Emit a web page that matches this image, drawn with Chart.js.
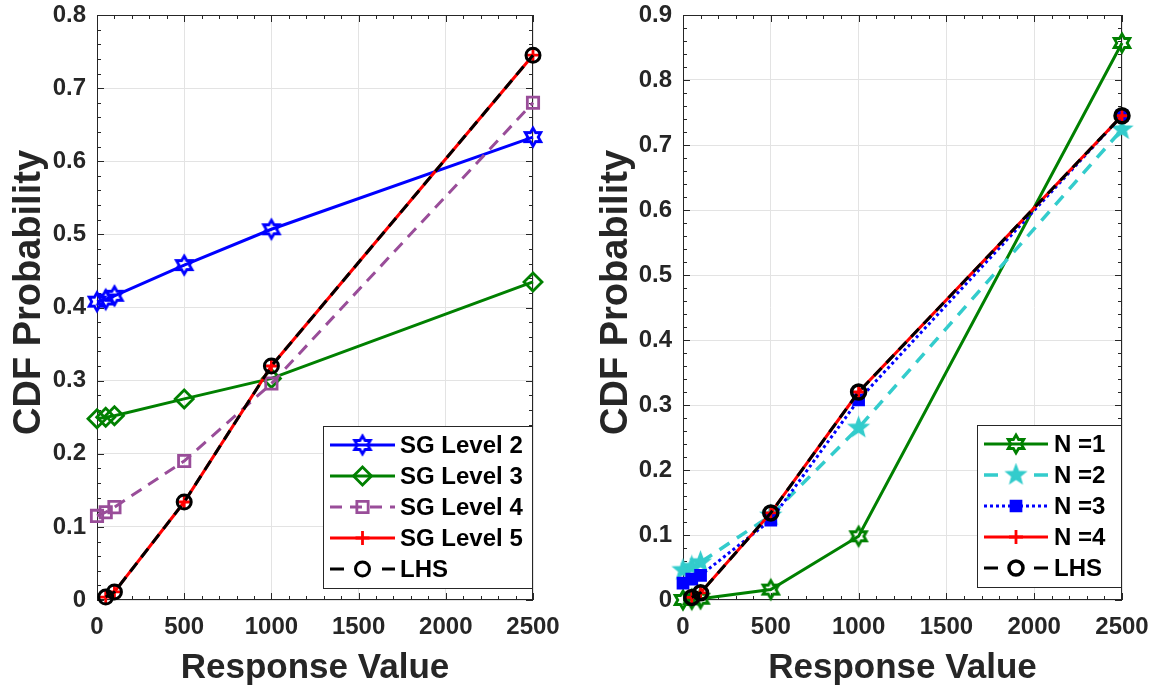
<!DOCTYPE html>
<html>
<head>
<meta charset="utf-8">
<script src="https://cdn.jsdelivr.net/npm/chart.js@4.4.1/dist/chart.umd.min.js"></script>
<style>
  html, body { margin: 0; padding: 0; background: #fff; }
  .panel { position: absolute; top: 0; height: 690px; }
  #left-panel { left: 0; width: 576px; }
  #right-panel { left: 586px; width: 572px; }
</style>
</head>
<body>
<div class="panel" id="left-panel"><canvas id="left-chart" width="576" height="690"></canvas></div>
<div class="panel" id="right-panel"><canvas id="right-chart" width="572" height="690"></canvas></div>
<script>
// x positions of the samples (response values)
const responseValues = [0, 50, 100, 500, 1000, 2500];

// left panel: sparse grid levels
const sgLevel2 = [0.408, 0.411, 0.416, 0.458, 0.507, 0.633];
const sgLevel3 = [0.248, 0.250, 0.252, 0.275, 0.303, 0.435];
const sgLevel4 = [0.115, 0.120, 0.127, 0.190, 0.296, 0.680];
const sgLevel5 = [null, 0.004, 0.011, 0.134, 0.320, 0.745];
const lhsLeft = [null, 0.004, 0.011, 0.134, 0.320, 0.745];

// right panel: N
const nEq1 = [0.000, 0.001, 0.002, 0.016, 0.098, 0.857];
const nEq2 = [0.046, 0.051, 0.058, 0.130, 0.265, 0.724];
const nEq3 = [0.026, 0.032, 0.038, 0.123, 0.308, 0.745];
const nEq4 = [null, 0.004, 0.011, 0.134, 0.320, 0.745];
const lhsRight = [null, 0.004, 0.011, 0.134, 0.320, 0.745];

const xTicks = [0, 500, 1000, 1500, 2000, 2500];
const leftYMax = 0.8;
const rightYMax = 0.9;

const FONT = "'Liberation Sans', Arial, Helvetica, sans-serif";
const AXIS_COLOR = "#262626";

function starCanvas(nPts, innerRatio, r, stroke, fill, lw) {
  const c = document.createElement("canvas");
  const s = Math.ceil(2 * r + lw * 2 + 2);
  c.width = c.height = s;
  const g = c.getContext("2d");
  g.beginPath();
  for (let k = 0; k < nPts * 2; k++) {
    const rad = k % 2 === 0 ? r : r * innerRatio;
    const ang = -Math.PI / 2 + (k * Math.PI) / nPts;
    const px = s / 2 + rad * Math.cos(ang);
    const py = s / 2 + rad * Math.sin(ang);
    if (k === 0) g.moveTo(px, py); else g.lineTo(px, py);
  }
  g.closePath();
  if (fill) { g.fillStyle = fill; g.fill(); }
  g.lineWidth = lw;
  g.strokeStyle = stroke;
  g.stroke();
  return c;
}

const blueHex = starCanvas(6, 0.577, 9, "#0000ff", null, 2.8);
const greenHex = starCanvas(6, 0.577, 9, "#008000", null, 2.8);
const cyanStar = starCanvas(5, 0.42, 10, "#33cccc", "#33cccc", 1.5);

function toPoints(ys) {
  return responseValues
    .map((x, i) => ({ x, y: ys[i] }))
    .filter((p) => p.y !== null);
}

function series(label, ys, color, extra) {
  return Object.assign({
    label,
    data: toPoints(ys),
    borderColor: color,
    backgroundColor: color,
    pointBorderColor: color,
    pointBackgroundColor: "rgba(0,0,0,0)",
    borderWidth: 3,
    pointBorderWidth: 2.8,
    pointRadius: 7,
    tension: 0,
    fill: false,
    clip: false,
  }, extra);
}

// inward major + minor ticks on all four sides, MATLAB box style
const matlabBox = {
  id: "matlabBox",
  beforeDatasetsDraw(chart, args, opts) {
    const { ctx, chartArea: a, scales: { x, y } } = chart;
    ctx.save();
    ctx.strokeStyle = AXIS_COLOR;
    ctx.lineWidth = 1;
    ctx.strokeRect(Math.round(a.left) + 0.5, Math.round(a.top) + 0.5,
      Math.round(a.width) - 1, Math.round(a.height) - 1);
    ctx.beginPath();
    for (let v = x.min; v <= x.max + 1e-9; v += opts.xMinor) {
      const px = Math.round(x.getPixelForValue(v)) + 0.5;
      const len = Math.abs(v % opts.xMajor) < 1e-9 ? 7 : 4;
      ctx.moveTo(px, a.bottom); ctx.lineTo(px, a.bottom - len);
      ctx.moveTo(px, a.top); ctx.lineTo(px, a.top + len);
    }
    const nMinor = Math.round((y.max - y.min) / opts.yMinor);
    for (let k = 0; k <= nMinor; k++) {
      const v = y.min + k * opts.yMinor;
      const py = Math.round(y.getPixelForValue(v)) + 0.5;
      const len = k % 5 === 0 ? 7 : 4;
      ctx.moveTo(a.left, py); ctx.lineTo(a.left + len, py);
      ctx.moveTo(a.right, py); ctx.lineTo(a.right - len, py);
    }
    ctx.stroke();

    // y axis title, drawn by hand so it can sit a little above centre like MATLAB's
    ctx.save();
    ctx.translate(opts.yTitleX, (a.top + a.bottom) / 2 + opts.yTitleShift);
    ctx.rotate(-Math.PI / 2);
    ctx.font = "bold 38px " + FONT;
    ctx.fillStyle = AXIS_COLOR;
    ctx.textAlign = "center";
    ctx.textBaseline = "middle";
    ctx.fillText(opts.yTitle, 0, 0);
    ctx.restore();
    ctx.restore();
  },
};

// MATLAB-like boxed legend with line + marker samples
const boxLegend = {
  id: "boxLegend",
  afterDatasetsDraw(chart, args, opts) {
    const ctx = chart.ctx;
    const area = chart.chartArea;
    const sets = chart.data.datasets;
    const h = opts.rowHeight * sets.length + opts.padY * 2;
    const x0 = Math.round(area.right - opts.right - opts.width);
    const y0 = Math.round(area.bottom - opts.bottom - h);
    ctx.save();
    ctx.fillStyle = "#fff";
    ctx.fillRect(x0, y0, opts.width, h);
    ctx.strokeStyle = AXIS_COLOR;
    ctx.lineWidth = 1;
    ctx.strokeRect(x0 + 0.5, y0 + 0.5, opts.width, h);
    ctx.font = "bold 24px " + FONT;
    ctx.textBaseline = "middle";
    sets.forEach((ds, i) => {
      const cy = y0 + opts.padY + opts.rowHeight * (i + 0.5);
      const lx0 = x0 + opts.lineStart;
      const lx1 = x0 + opts.lineEnd;
      ctx.beginPath();
      ctx.setLineDash(ds.legendDash || ds.borderDash || []);
      ctx.strokeStyle = ds.borderColor;
      ctx.lineWidth = ds.borderWidth;
      ctx.moveTo(lx0, cy); ctx.lineTo(lx1, cy);
      ctx.stroke();
      ctx.setLineDash([]);
      ctx.strokeStyle = ds.pointBorderColor;
      ctx.fillStyle = ds.pointBackgroundColor;
      ctx.lineWidth = ds.pointBorderWidth;
      Chart.helpers.drawPoint(ctx, {
        pointStyle: ds.pointStyle, radius: ds.pointRadius,
        borderWidth: ds.pointBorderWidth, rotation: 0,
      }, (lx0 + lx1) / 2, cy);
      ctx.fillStyle = "#000";
      ctx.fillText(ds.label, x0 + opts.textStart, cy + 1);
    });
    ctx.restore();
  },
};

function makeOptions(yMax, legendOpts, padRight, yTitleX) {
  return {
    responsive: false,
    animation: false,
    events: [],
    layout: { padding: { left: 0, right: padRight, top: 15, bottom: 0 } },
    plugins: {
      legend: { display: false },
      tooltip: { enabled: false },
      matlabBox: {
        xMinor: 100, xMajor: 500, yMinor: 0.02,
        yTitle: "CDF Probability", yTitleX: yTitleX, yTitleShift: -15,
      },
      boxLegend: legendOpts,
    },
    scales: {
      x: {
        type: "linear",
        min: 0,
        max: 2500,
        afterFit: (s) => { s.height = 90; s.paddingLeft = 0; s.paddingRight = 0; },
        afterBuildTicks: (s) => { s.ticks = xTicks.map((v) => ({ value: v })); },
        border: { display: false },
        grid: { color: "#e3e3e3", lineWidth: 1, drawTicks: false },
        ticks: {
          color: AXIS_COLOR, padding: 13, maxRotation: 0,
          font: { family: FONT, size: 24, weight: "bold" },
          callback: (v) => String(v),
        },
        title: {
          display: true, text: "Response Value", color: AXIS_COLOR,
          font: { family: FONT, size: 35, weight: "bold" }, padding: { top: 0, bottom: 1 },
        },
      },
      y: {
        min: 0,
        max: yMax,
        afterFit: (s) => { s.width = 97; s.paddingTop = 0; s.paddingBottom = 0; },
        border: { display: false },
        grid: { color: "#e3e3e3", lineWidth: 1, drawTicks: false },
        ticks: { stepSize: 0.1, color: AXIS_COLOR, padding: 11, font: { family: FONT, size: 24, weight: "bold" } },
        title: { display: false },
      },
    },
  };
}

const leftSets = [
  series("SG Level 2", sgLevel2, "#0000ff", { pointStyle: blueHex, order: 4 }),
  series("SG Level 3", sgLevel3, "#008000", { pointStyle: "rectRot", pointRadius: 9, order: 3 }),
  series("SG Level 4", sgLevel4, "#994d99", { pointStyle: "rect", pointRadius: 8, borderDash: [12, 8], order: 2 }),
  series("SG Level 5", sgLevel5, "#ff0000", { pointStyle: "cross", pointRadius: 7, order: 1 }),
  series("LHS", lhsLeft, "#000000", { pointStyle: "circle", pointRadius: 7, pointBorderWidth: 3, borderDash: [11, 7], legendDash: [14, 38], order: 0 }),
];

const rightSets = [
  series("N =1", nEq1, "#008000", { pointStyle: greenHex, order: 4 }),
  series("N =2", nEq2, "#33cccc", { pointStyle: cyanStar, borderWidth: 3.5, borderDash: [12, 9], legendDash: [14, 36], order: 3 }),
  series("N =3", nEq3, "#0000ff", { pointStyle: "rect", pointRadius: 7, pointBackgroundColor: "#0000ff", borderWidth: 3, borderDash: [3, 3], order: 2 }),
  series("N =4", nEq4, "#ff0000", { pointStyle: "cross", pointRadius: 7, order: 1 }),
  series("LHS", lhsRight, "#000000", { pointStyle: "circle", pointRadius: 7, pointBorderWidth: 3.5, borderDash: [11, 7], legendDash: [14, 36], order: 0 }),
];

new Chart(document.getElementById("left-chart"), {
  type: "line",
  data: { datasets: leftSets },
  options: makeOptions(leftYMax, {
    width: 209, rowHeight: 31, padY: 3.5, right: 1, bottom: 12,
    lineStart: 7, lineEnd: 72, textStart: 77,
  }, 43, 30),
  plugins: [matlabBox, boxLegend],
});

new Chart(document.getElementById("right-chart"), {
  type: "line",
  data: { datasets: rightSets },
  options: makeOptions(rightYMax, {
    width: 144, rowHeight: 31, padY: 3.5, right: 1, bottom: 13,
    lineStart: 7, lineEnd: 71, textStart: 77,
  }, 36, 31),
  plugins: [matlabBox, boxLegend],
});
</script>
</body>
</html>
